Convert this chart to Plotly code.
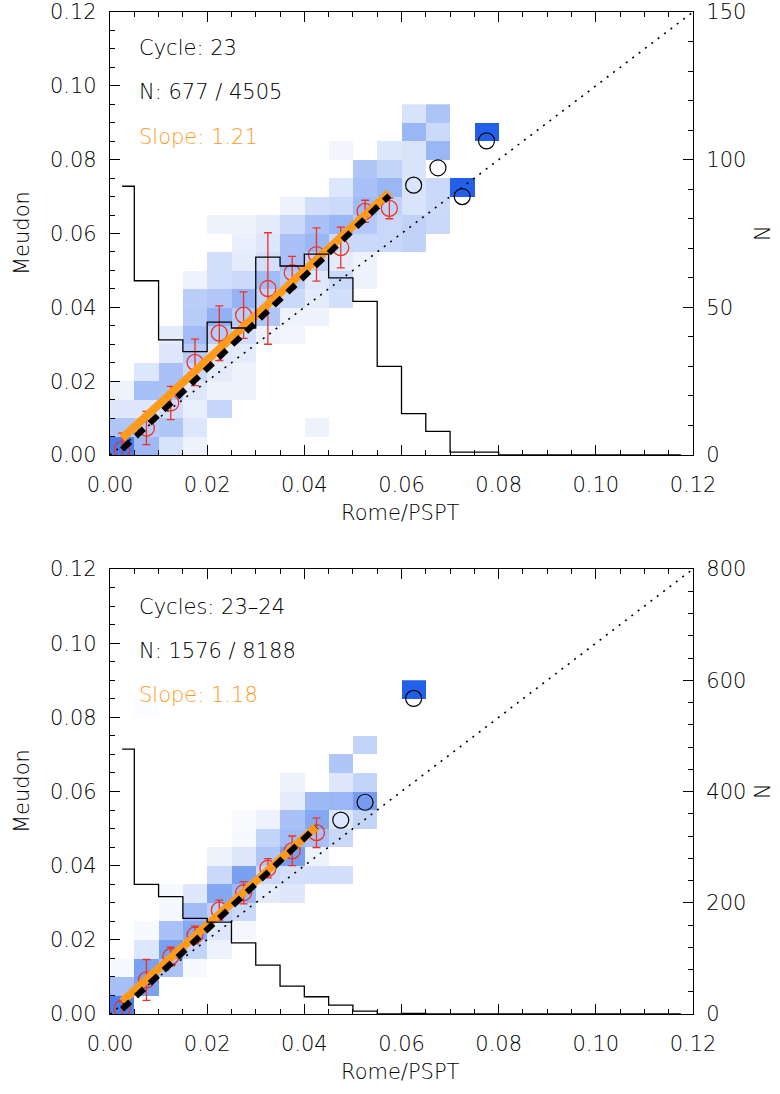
import numpy as np
import plotly.graph_objects as go

W, H = 780, 1094
FONT = "DejaVu Sans"
WEIGHT = 200
ORANGE = "#FF9A1A"
RED = "#EE3322"


def fx(px):
    return px / W


def fy(py):
    return 1 - py / H


# ---------------- data ----------------
axis_range = [0.0, 0.12]
bin_x = [0.0025, 0.0075, 0.0125, 0.0175, 0.0225, 0.0275, 0.0325, 0.0375,
         0.0425, 0.0475, 0.0525, 0.0575, 0.0625, 0.0675, 0.0725, 0.0775]
bin_y = [0.0025, 0.0075, 0.0125, 0.0175, 0.0225, 0.0275, 0.0325, 0.0375,
         0.0425, 0.0475, 0.0525, 0.0575, 0.0625, 0.0675, 0.0725, 0.0775,
         0.0825, 0.0875, 0.0925]

# 2D density (rows = Meudon bins from 0, cols = Rome/PSPT bins), relative colour level
top_density = [
    [.82, .44, .18, .08, 0, 0, 0, 0, 0, 0, 0, 0, 0, 0, 0, 0],
    [.36, .33, .36, .16, 0, 0, 0, 0, .08, 0, 0, 0, 0, 0, 0, 0],
    [.15, .15, .21, .10, .26, 0, 0, 0, 0, 0, 0, 0, 0, 0, 0, 0],
    [.08, .40, .39, .15, .08, .08, 0, 0, 0, 0, 0, 0, 0, 0, 0, 0],
    [0, .16, .39, .24, .12, .08, 0, 0, 0, 0, 0, 0, 0, 0, 0, 0],
    [0, 0, .15, .33, .15, .12, 0, 0, 0, 0, 0, 0, 0, 0, 0, 0],
    [0, 0, .12, .43, .32, .21, .08, .06, 0, 0, 0, 0, 0, 0, 0, 0],
    [0, 0, 0, .32, .50, .32, .36, .08, .08, 0, 0, 0, 0, 0, 0, 0],
    [0, 0, 0, .31, .35, .48, .27, .24, .12, .20, 0, 0, 0, 0, 0, 0],
    [0, 0, 0, .08, .20, .23, .43, .32, .15, .24, .08, 0, 0, 0, 0, 0],
    [0, 0, 0, 0, .20, .12, .20, .39, .27, .12, .08, 0, 0, 0, 0, 0],
    [0, 0, 0, 0, 0, .10, .16, .39, .46, .24, .24, .25, .28, 0, 0, 0],
    [0, 0, 0, 0, .08, .08, .12, .24, .39, .46, .34, .25, .28, .24, 0, 0],
    [0, 0, 0, 0, 0, 0, 0, .08, .21, .23, .43, .28, .17, .23, 0, 0],
    [0, 0, 0, 0, 0, 0, 0, 0, 0, .16, .39, .46, .17, .24, 1.0, 0],
    [0, 0, 0, 0, 0, 0, 0, 0, 0, 0, .36, .27, .17, 0, 0, 0],
    [0, 0, 0, 0, 0, 0, 0, 0, 0, .06, 0, .16, .17, .46, 0, 0],
    [0, 0, 0, 0, 0, 0, 0, 0, 0, 0, 0, 0, .46, .23, 0, 1.0],
    [0, 0, 0, 0, 0, 0, 0, 0, 0, 0, 0, 0, .18, .37, 0, 0],
]
bot_density = [
    [.80, 0, 0, 0, 0, 0, 0, 0, 0, 0, 0, 0, 0, 0, 0, 0],
    [.40, .60, 0, 0, 0, 0, 0, 0, 0, 0, 0, 0, 0, 0, 0, 0],
    [.04, .60, .37, .04, 0, 0, 0, 0, 0, 0, 0, 0, 0, 0, 0, 0],
    [0, .16, .60, .27, .08, 0, 0, 0, 0, 0, 0, 0, 0, 0, 0, 0],
    [0, .04, .39, .55, .16, .05, 0, 0, 0, 0, 0, 0, 0, 0, 0, 0],
    [0, 0, .05, .43, .30, .24, 0, 0, 0, 0, 0, 0, 0, 0, 0, 0],
    [0, 0, .04, .15, .55, .45, .12, .15, 0, 0, 0, 0, 0, 0, 0, 0],
    [0, 0, 0, 0, .24, .60, .24, .20, .20, .20, 0, 0, 0, 0, 0, 0],
    [0, 0, 0, 0, .08, .15, .36, .60, .08, 0, 0, 0, 0, 0, 0, 0],
    [0, 0, 0, 0, 0, .04, .27, .43, .39, .24, 0, 0, 0, 0, 0, 0],
    [0, 0, 0, 0, 0, .03, .08, .39, .55, .16, .27, 0, 0, 0, 0, 0],
    [0, 0, 0, 0, 0, 0, 0, .12, .44, .46, .62, 0, 0, 0, 0, 0],
    [0, 0, 0, 0, 0, 0, 0, .08, 0, .15, .27, 0, 0, 0, 0, 0],
    [0, 0, 0, 0, 0, 0, 0, 0, 0, .36, 0, 0, 0, 0, 0, 0],
    [0, 0, 0, 0, 0, 0, 0, 0, 0, 0, .27, 0, 0, 0, 0, 0],
    [0, 0, 0, 0, 0, 0, 0, 0, 0, 0, 0, 0, 0, 0, 0, 0],
    [0, .02, 0, 0, 0, 0, 0, 0, 0, 0, 0, 0, 0, 0, 0, 0],
    [0, 0, 0, 0, 0, 0, 0, 0, 0, 0, 0, 0, 1.0, 0, 0, 0],
]

# 1D histogram of Rome/PSPT values (counts per 0.005 bin, centres)
hist_x = [0.0025, 0.0075, 0.0125, 0.0175, 0.0225, 0.0275, 0.0325, 0.0375,
          0.0425, 0.0475, 0.0525, 0.0575, 0.0625, 0.0675, 0.0725, 0.0775,
          0.0825, 0.0875, 0.0925, 0.0975, 0.1025, 0.1075, 0.1125, 0.1175]
top_counts = [91, 59, 39, 35, 45, 43, 67, 64, 68, 60, 52, 30, 14, 8, 1, 1,
              0, 0, 0, 0, 0, 0, 0, 0]
bot_counts = [476, 233, 211, 172, 165, 128, 88, 50, 31, 16, 5, 0, 1, 0, 0, 0,
              0, 0, 0, 0, 0, 0, 0, 0]

# binned means with errors (red) and sparse bins (black)
top_mean_x = [0.0025, 0.0075, 0.0125, 0.0175, 0.0225, 0.0275, 0.0325, 0.0375,
              0.0425, 0.0475, 0.0525, 0.0575]
top_mean_y = [0.0015, 0.0073, 0.0141, 0.0251, 0.0330, 0.0379, 0.0451, 0.0494,
              0.0543, 0.0562, 0.0660, 0.0668]
top_mean_err = [0.0044, 0.0045, 0.0045, 0.0063, 0.0074, 0.0063, 0.0151, 0.0044,
                0.0072, 0.0055, 0.0030, 0.0028]
top_sparse_x = [0.0625, 0.0675, 0.0725, 0.0775]
top_sparse_y = [0.0731, 0.0778, 0.0700, 0.0851]

bot_mean_x = [0.0025, 0.0075, 0.0125, 0.0175, 0.0225, 0.0275, 0.0325, 0.0375, 0.0425]
bot_mean_y = [0.0015, 0.0092, 0.0155, 0.0213, 0.0280, 0.0327, 0.0393, 0.0440, 0.0489]
bot_mean_err = [0.0020, 0.0055, 0.0025, 0.0024, 0.0027, 0.0030, 0.0026, 0.0040, 0.0040]
bot_sparse_x = [0.0475, 0.0525, 0.0625]
bot_sparse_y = [0.0523, 0.0571, 0.0851]

# fits
top_slope, top_icpt = 1.21, 0.0015
top_dash_slope, top_dash_icpt = 1.25, -0.0016
bot_slope, bot_icpt = 1.18, 0.0004
bot_dash_slope, bot_dash_icpt = 1.23, -0.0018

top_texts = ["Cycle: 23", "N: 677 / 4505", "Slope: 1.21"]
bot_texts = ["Cycles: 23–24", "N: 1576 / 8188", "Slope: 1.18"]

# ---------------- figure ----------------
X_DOM = [fx(110), fx(693)]
TOP_DOM = [fy(455), fy(12)]
BOT_DOM = [fy(1014), fy(569)]

cscale = [[0, "rgb(255,255,255)"], [1, "rgb(34,96,234)"]]

fig = go.Figure()


def add_panel(xa, ya, yn, density, counts, mx, my, merr, sx, sy,
              slope, icpt, dslope, dicpt):
    z = np.array(density, dtype=float)
    z[z == 0] = np.nan
    fig.add_trace(go.Heatmap(x=bin_x, y=bin_y[:z.shape[0]], z=z, zmin=0, zmax=1,
                             colorscale=cscale, showscale=False,
                             hoverinfo="skip", xaxis=xa, yaxis=ya))
    # one-to-one
    fig.add_trace(go.Scatter(x=axis_range, y=axis_range, mode="lines",
                             line=dict(color="black", width=1.6, dash="2px,6px"),
                             xaxis=xa, yaxis=ya))
    # binned means
    fig.add_trace(go.Scatter(x=mx, y=my, mode="markers",
                             marker=dict(symbol="circle-open", size=16,
                                         color=RED, line=dict(width=1.3, color=RED)),
                             error_y=dict(type="data", array=merr, color=RED,
                                          thickness=1.3, width=4),
                             xaxis=xa, yaxis=ya))
    fig.add_trace(go.Scatter(x=sx, y=sy, mode="markers",
                             marker=dict(symbol="circle-open", size=16,
                                         color="black", line=dict(width=1.2, color="black")),
                             xaxis=xa, yaxis=ya))
    # fits
    fxs = [mx[0], mx[-1]]
    fig.add_trace(go.Scatter(x=fxs, y=[slope * v + icpt for v in fxs], mode="lines",
                             line=dict(color=ORANGE, width=8), xaxis=xa, yaxis=ya))
    fig.add_trace(go.Scatter(x=fxs, y=[dslope * v + dicpt for v in fxs], mode="lines",
                             line=dict(color="black", width=6, dash="11px,8px"),
                             xaxis=xa, yaxis=ya))
    # histogram
    fig.add_trace(go.Scatter(x=hist_x, y=counts, mode="lines",
                             line=dict(color="black", width=1.3, shape="hvh"),
                             xaxis=xa, yaxis=yn))


add_panel("x", "y", "y2", top_density, top_counts, top_mean_x, top_mean_y, top_mean_err,
          top_sparse_x, top_sparse_y, top_slope, top_icpt, top_dash_slope, top_dash_icpt)
add_panel("x2", "y3", "y4", bot_density, bot_counts, bot_mean_x, bot_mean_y, bot_mean_err,
          bot_sparse_x, bot_sparse_y, bot_slope, bot_icpt, bot_dash_slope, bot_dash_icpt)

TF = dict(size=21, family=FONT, color="black", weight=WEIGHT)
common = dict(showline=True, linecolor="black", linewidth=1.3, ticks="inside",
              ticklen=10, tickwidth=1.2, tickcolor="black", showgrid=False,
              zeroline=False, automargin=False, tickfont=TF)


def minor(dt):
    return dict(ticks="inside", ticklen=5, tickwidth=1.2, tickcolor="black", dtick=dt)


xcfg = dict(common, domain=X_DOM, range=axis_range, tick0=0, dtick=0.02,
            tickformat=".2f", minor=minor(0.005), mirror="ticks", ticklabelstandoff=11)
ycfg = dict(common, range=axis_range, tick0=0, dtick=0.02, tickformat=".2f",
            minor=minor(0.005), ticklabelstandoff=8)

fig.update_layout(
    width=W, height=H, margin=dict(l=0, r=0, t=0, b=0, autoexpand=False),
    plot_bgcolor="white", paper_bgcolor="white", showlegend=False,
    font=dict(family=FONT, size=21, color="black", weight=WEIGHT),
    xaxis=dict(xcfg, anchor="y"),
    yaxis=dict(ycfg, domain=TOP_DOM, anchor="x"),
    yaxis2=dict(common, overlaying="y", side="right", anchor="x", range=[0, 150],
                tick0=0, dtick=50, minor=minor(10), ticklabelstandoff=8),
    xaxis2=dict(xcfg, anchor="y3"),
    yaxis3=dict(ycfg, domain=BOT_DOM, anchor="x2"),
    yaxis4=dict(common, overlaying="y3", side="right", anchor="x2", range=[0, 800],
                tick0=0, dtick=200, minor=minor(40), ticklabelstandoff=8),
)

ann = []
for texts, ys in ((top_texts, (48, 92, 137)), (bot_texts, (607, 651, 695))):
    for t, yy, col in zip(texts, ys, ("black", "black", ORANGE)):
        ann.append(dict(text=t, x=fx(137), y=fy(yy), xref="paper", yref="paper",
                        xanchor="left", yanchor="middle", showarrow=False,
                        font=dict(size=21, family=FONT, color=col, weight=WEIGHT)))
for cy, ty in ((233, 513), (791, 1072)):
    ann.append(dict(text="Meudon", x=fx(22), y=fy(cy), xref="paper", yref="paper",
                    textangle=-90, showarrow=False, xanchor="center", yanchor="middle",
                    font=TF))
    ann.append(dict(text="N", x=fx(763), y=fy(cy), xref="paper", yref="paper",
                    textangle=-90, showarrow=False, xanchor="center", yanchor="middle",
                    font=TF))
    ann.append(dict(text="Rome/PSPT", x=fx(401), y=fy(ty), xref="paper", yref="paper",
                    showarrow=False, xanchor="center", yanchor="middle", font=TF))
fig.update_layout(annotations=ann)

fig.write_html("out.html", config={"displayModeBar": False},
               post_script="document.body.style.margin='0px';"
                           "document.body.style.padding='0px';")
